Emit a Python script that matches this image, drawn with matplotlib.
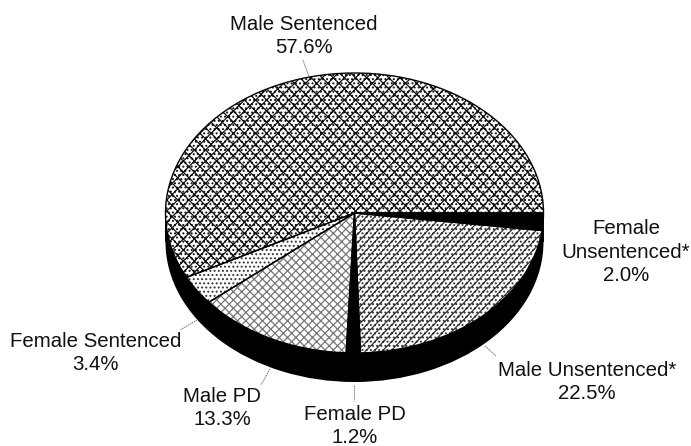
import matplotlib
matplotlib.use("Agg")
import matplotlib.pyplot as plt
from matplotlib.patches import Rectangle

categories = ["Female\nUnsentenced*", "Male Unsentenced*", "Female PD", "Male PD",
              "Female Sentenced", "Male Sentenced"]
shares = [2.0, 22.5, 1.2, 13.3, 3.4, 57.6]
percent_labels = ["2.0%", "22.5%", "1.2%", "13.3%", "3.4%", "57.6%"]

W, H = 691, 446
CX, CY = 354.5, 213     # pie centre in pixels
RX, RY = 189, 140       # ellipse radii in pixels
DEPTH = 29 / RY

plt.rcParams['font.family'] = ['Liberation Sans', 'DejaVu Sans']
plt.rcParams['hatch.linewidth'] = 0.9


def px(x, y):
    # image pixels to data units
    return (x - CX) / RX, (CY - y) / RY


fig = plt.figure(figsize=(W / 100, H / 100), dpi=100)
ax = fig.add_axes([0, 0, 1, 1])

# black side of the disc, one solid piece so no seams show
ax.pie([sum(shares)], colors=['black'], center=(0, -DEPTH), radius=1)
ax.add_patch(Rectangle((-1, -DEPTH), 2, DEPTH, color='black', lw=0))

# top face
fills = ['black', 'white', 'black', 'white', 'white', 'white']
hatches = [None, '////....', None, 'xxxx', '....', 'xxx....']
hatch_colors = ['black', '#333333', 'black', '#777777', '#333333', '#111111']
wedges, _ = ax.pie(shares, colors=fills, radius=1, startangle=0, counterclock=False)
for w, h, c in zip(wedges, hatches, hatch_colors):
    w.set_edgecolor(c)
    w.set_linewidth(0)
    if h:
        w.set_hatch(h)

# outlines on top of the hatching
outlines, _ = ax.pie(shares, radius=1, startangle=0, counterclock=False,
                     wedgeprops=dict(fill=False, edgecolor='black', linewidth=1.0))

ax.set_aspect('auto')
ax.set_xlim(px(0, 0)[0], px(W, 0)[0])
ax.set_ylim(px(0, H)[1], px(0, 0)[1])
ax.axis('off')

# leader lines
leaders = [((485, 346), (496, 356)), ((354, 385), (354, 401)),
           ((270, 369), (261, 385)), ((197, 320), (180, 330)), ((303, 60), (309, 77))]
for (x0, y0), (x1, y1) in leaders:
    a, b = px(x0, y0), px(x1, y1)
    ax.plot([a[0], b[0]], [a[1], b[1]], color='#777777', lw=0.7, ls=(0, (1.5, 0.8)))

# labels
label_pos = [(626, 252), (587, 382), (355, 426), (222, 408), (95.5, 353), (303.5, 36)]
for name, pct, (x, y) in zip(categories, percent_labels, label_pos):
    tx, ty = px(x, y)
    ax.text(tx, ty, name + "\n" + pct, ha='center', va='center', fontsize=14.7,
            linespacing=1.32, color='#111111')

fig.savefig("out.png", dpi=100)
